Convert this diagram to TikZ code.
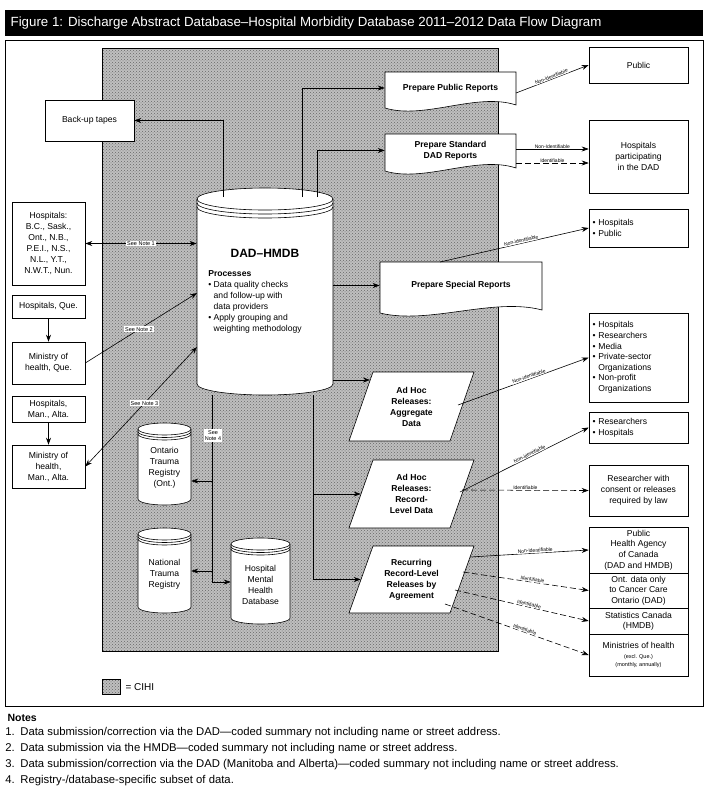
\documentclass[tikz,border=0pt]{standalone}
\usepackage{fontspec}
\setmainfont{Liberation Sans}
\usetikzlibrary{arrows.meta,patterns,positioning}

% database drum: name, x, y, width, height, ry, rings, text
\newcommand{\dbase}[8]{%
  \draw[semithick,fill=white] (#2,{#3+#6}) -- (#2,{#3+#5-#6})
    arc[start angle=180,end angle=0,x radius={#4/2},y radius=#6]
    -- ({#2+#4},{#3+#6}) arc[start angle=0,end angle=-180,x radius={#4/2},y radius=#6];
  \draw[semithick] (#2,{#3+#6}) arc[start angle=180,end angle=0,x radius={#4/2},y radius=#6];
  \draw[semithick] (#2,{#3+#6+#7}) arc[start angle=180,end angle=0,x radius={#4/2},y radius=#6];
  \draw[semithick] (#2,{#3+#6+2*#7}) arc[start angle=180,end angle=0,x radius={#4/2},y radius=#6];
  \node[inner sep=0,minimum width=#4,minimum height=#5,align=center,font=\fontsize{8.6}{11}\selectfont]
    (#1) at ({#2+#4/2},{#3+#5/2+4}) {#8};}
% report sheet with a wavy bottom
\newcommand{\docbox}[6]{%
  \draw[semithick,fill=white] (#2,#3) -- ({#2+#4},#3) -- ({#2+#4},{#3+#5-7})
    .. controls ({#2+0.7*#4},{#3+#5-20}) and ({#2+0.3*#4},{#3+#5+8}) .. (#2,{#3+#5-4}) -- cycle;
  \node[inner sep=0,minimum width=#4,minimum height={#5-8},align=center,
    font=\bfseries\fontsize{8.6}{11}\selectfont] (#1) at ({#2+#4/2},{#3+#5/2-4}) {#6};}
% release parallelogram
\newcommand{\release}[6]{%
  \draw[semithick,fill=white] ({#2+#5},#3) -- ({#2+#4},#3) -- ({#2+#4-#5},{#3+#6}) -- (#2,{#3+#6}) -- cycle;}

\begin{document}
\begin{tikzpicture}[x=1pt,y=-1pt,
    box/.style={draw, semithick, fill=white, inner sep=2pt, align=center,
      font=\fontsize{8.6}{11}\selectfont},
    lbl/.style={font=\fontsize{5}{6}\selectfont, fill=white, inner sep=0.6pt, sloped},
    note/.style={font=\fontsize{5.5}{6.5}\selectfont, fill=white, inner sep=1pt},
    bold/.style={font=\bfseries\fontsize{8.6}{11}\selectfont, align=center},
    >={Stealth[length=7pt,width=5pt]}, semithick
  ]
  \useasboundingbox (0,0) rectangle (708,796);

  % Title and frame
  \fill[black] (5,10) rectangle (703,36);
  \node[anchor=west,text=white,font=\fontsize{13.3}{16}\selectfont] (title) at (7,23)
    {Figure 1: Discharge Abstract Database--Hospital Morbidity Database 2011--2012 Data Flow Diagram};
  \draw[thin] (5,40) rectangle (703,706);

  % CIHI area
  \fill[black!25] (102,48) rectangle (498,651);
  \fill[pattern=crosshatch dots, pattern color=black!60] (102,48) rectangle (498,651);
  \draw[thin] (102,48) rectangle (498,651);

  % Sources
  \node[box,minimum width=89,minimum height=41] (backup) at (89.5,120.5) {Back-up tapes};
  \node[box,minimum width=73,minimum height=83] (hosp) at (48.5,243.5)
    {Hospitals:\\B.C., Sask.,\\Ont., N.B.,\\P.E.I., N.S.,\\N.L., Y.T.,\\N.W.T., Nun.};
  \node[box,minimum width=73,minimum height=23] (hospque) at (48.5,306.5) {Hospitals, Que.};
  \node[box,minimum width=73,minimum height=42] (minque) at (48.5,363) {Ministry of\\health, Que.};
  \node[box,minimum width=73,minimum height=26] (hospma) at (48.5,409) {Hospitals,\\Man., Alta.};
  \node[box,minimum width=73,minimum height=43] (minma) at (48.5,466.5) {Ministry of\\health,\\Man., Alta.};

  % Databases
  \dbase{dad}{197}{188}{136}{207}{11}{4}{}
  \node[font=\bfseries\fontsize{12}{14}\selectfont] (dadname) at (265,253) {DAD--HMDB};
  \node[anchor=north west,align=left,font=\fontsize{8.6}{11}\selectfont,inner sep=0] (proc) at (208,270)
    {\textbf{Processes}\\
     \textbullet~Data quality checks\\\phantom{\textbullet~}and follow-up with\\\phantom{\textbullet~}data providers\\
     \textbullet~Apply grouping and\\\phantom{\textbullet~}weighting methodology};
  \dbase{ont}{138}{423}{53}{82}{6}{2.5}{Ontario\\Trauma\\Registry\\(Ont.)}
  \dbase{nat}{138}{528}{53}{85}{6}{2.5}{National\\Trauma\\Registry}
  \dbase{hmh}{231}{538}{59}{86}{6}{2.5}{Hospital\\Mental\\Health\\Database}

  % Reports and releases
  \docbox{pubrep}{385}{72}{131}{40}{Prepare Public Reports}
  \docbox{stdrep}{385}{134}{131}{41}{Prepare Standard\\DAD Reports}
  \docbox{sperep}{380}{262}{162}{55}{Prepare Special Reports}
  \release{agg}{349}{372}{125}{24}{69}
  \node[bold,minimum width=101,minimum height=69,inner sep=0] (agg) at (411.5,406.5) {Ad Hoc\\Releases:\\Aggregate\\Data};
  \release{rec}{349}{460}{125}{24}{68}
  \node[bold,minimum width=101,minimum height=68,inner sep=0] (rec) at (411.5,494) {Ad Hoc\\Releases:\\Record-\\Level Data};
  \release{rec2}{349}{546}{125}{24}{67}
  \node[bold,minimum width=101,minimum height=67,inner sep=0] (rec2) at (411.5,579.5) {Recurring\\Record-Level\\Releases by\\Agreement};

  % Recipients
  \node[box,minimum width=99,minimum height=36] (public) at (638.5,65) {Public};
  \node[box,minimum width=99,minimum height=73] (hospdad) at (638.5,156.5) {Hospitals\\participating\\in the DAD};
  \node[box,minimum width=99,minimum height=38,text width=92,align=left] (hosppub) at (638.5,228)
    {\textbullet~Hospitals\\\textbullet~Public};
  \node[box,minimum width=99,minimum height=89,text width=92,align=left,font=\fontsize{8.6}{10.6}\selectfont] (users) at (638.5,357.5)
    {\textbullet~Hospitals\\\textbullet~Researchers\\\textbullet~Media\\\textbullet~Private-sector\\
     \phantom{\textbullet~}Organizations\\\textbullet~Non-profit\\\phantom{\textbullet~}Organizations};
  \node[box,minimum width=99,minimum height=31,text width=92,align=left] (reshosp) at (638.5,427.5)
    {\textbullet~Researchers\\\textbullet~Hospitals};
  \node[box,minimum width=99,minimum height=51] (consent) at (638.5,490.5)
    {Researcher with\\consent or releases\\required by law};
  \node[box,minimum width=99,minimum height=46,font=\fontsize{8.6}{10.8}\selectfont] (phac) at (638.5,550)
    {Public\\Health Agency\\of Canada\\(DAD and HMDB)};
  \node[box,minimum width=99,minimum height=35,font=\fontsize{8.6}{10.5}\selectfont] (ontd) at (638.5,590.5)
    {Ont. data only\\to Cancer Care\\Ontario (DAD)};
  \node[box,minimum width=99,minimum height=26,font=\fontsize{8.6}{10}\selectfont] (statcan) at (638.5,621)
    {Statistics Canada\\(HMDB)};
  \node[box,minimum width=99,minimum height=42] (minh) at (638.5,655)
    {Ministries of health\\[-1pt]{\fontsize{5.5}{7}\selectfont (excl. Que.)}\\[-3pt]{\fontsize{5.5}{7}\selectfont (monthly, annually)}};

  % Flows out of the database
  \draw[->] (223,197) |- (backup.east);
  \draw[->] (302,197) |- (pubrep.west);
  \draw[->] (317,197) |- (stdrep.west);
  \draw[->] (sperep.west -| dad.east) -- (sperep.west);
  \coordinate (aggin) at (370,380);
  \draw[->] (333,380) -- (aggin);
  \draw (212,395) -- (212,582);
  \draw[->] (212,481) -- (ont.east |- 0,481);
  \draw[->] (212,571) -- (nat.east |- 0,571);
  \draw[->] (212,582) -- (hmh.west |- 0,582);
  \node[note,align=center] (note4) at (213,435.5) {See\\Note 4};
  \draw[->] (313,395) |- (rec2.west);
  \draw[->] (313,494) -- (rec.west);

  % Flows into the database
  \draw[<->] (hosp.east) -- node[note]{See Note 1} (dad.west |- hosp.east);
  \draw[->] (minque.east) -- node[note,pos=0.48]{See Note 2} (197,293);
  \draw[<->] (minma.east) -- node[note,pos=0.53]{See Note 3} (197,347);
  \draw[->] (hospque) -- (minque);
  \draw[->] (hospma) -- (minma);

  % Flows to recipients
  \draw[->] (516,93) -- node[lbl,above]{Non-identifiable} (public.west);
  \draw[->] (516,149) -- node[lbl,above]{Non-Identifiable} (hospdad.west |- 0,149);
  \draw[->,dash pattern=on 6pt off 3pt] (516,163) -- node[lbl,above]{Identifiable} (hospdad.west |- 0,163);
  \draw[->] (440,262) -- node[lbl,above,pos=0.55]{Non-identifiable} (hosppub.west);
  \draw[->] (458,405) -- node[lbl,above,pos=0.55]{Non-identifiable} (users.west);
  \draw[->] (460,492) -- node[lbl,above,pos=0.55]{Non-identifiable} (reshosp.west);
  \draw[->,dash pattern=on 6pt off 3pt] (462,490) -- node[lbl,above,pos=0.5]{Identifiable} (consent.west);
  \draw[->] (470,557) -- node[lbl,above,pos=0.55]{Non-Identifiable} (phac.west);
  \draw[->,dash pattern=on 6pt off 3pt] (463,572) -- node[lbl,above,pos=0.55]{Identifiable} (ontd.west);
  \draw[->,dash pattern=on 6pt off 3pt] (455,590) -- node[lbl,above,pos=0.55]{Identifiable} (statcan.west);
  \draw[->,dash pattern=on 6pt off 3pt] (445,604) -- node[lbl,above,pos=0.55]{Identifiable} (minh.west);

  % Legend
  \fill[black!25] (102,679) rectangle (120,694);
  \fill[pattern=crosshatch dots, pattern color=black!60] (102,679) rectangle (120,694);
  \draw[thin] (102,679) rectangle (120,694);
  \node[anchor=west,font=\fontsize{10}{12}\selectfont] (cihi) at (122,687) {= CIHI};

  % Notes
  \node[anchor=west,font=\bfseries\fontsize{10.5}{12}\selectfont] (notes) at (4,718) {Notes};
  \node[anchor=north west,align=left,font=\fontsize{11.3}{16}\selectfont,inner sep=0] (notelist) at (5,727)
    {1.\enspace Data submission/correction via the DAD---coded summary not including name or street address.\\
     2.\enspace Data submission via the HMDB---coded summary not including name or street address.\\
     3.\enspace Data submission/correction via the DAD (Manitoba and Alberta)---coded summary not including name or street address.\\
     4.\enspace Registry-/database-specific subset of data.};
\end{tikzpicture}
\end{document}
